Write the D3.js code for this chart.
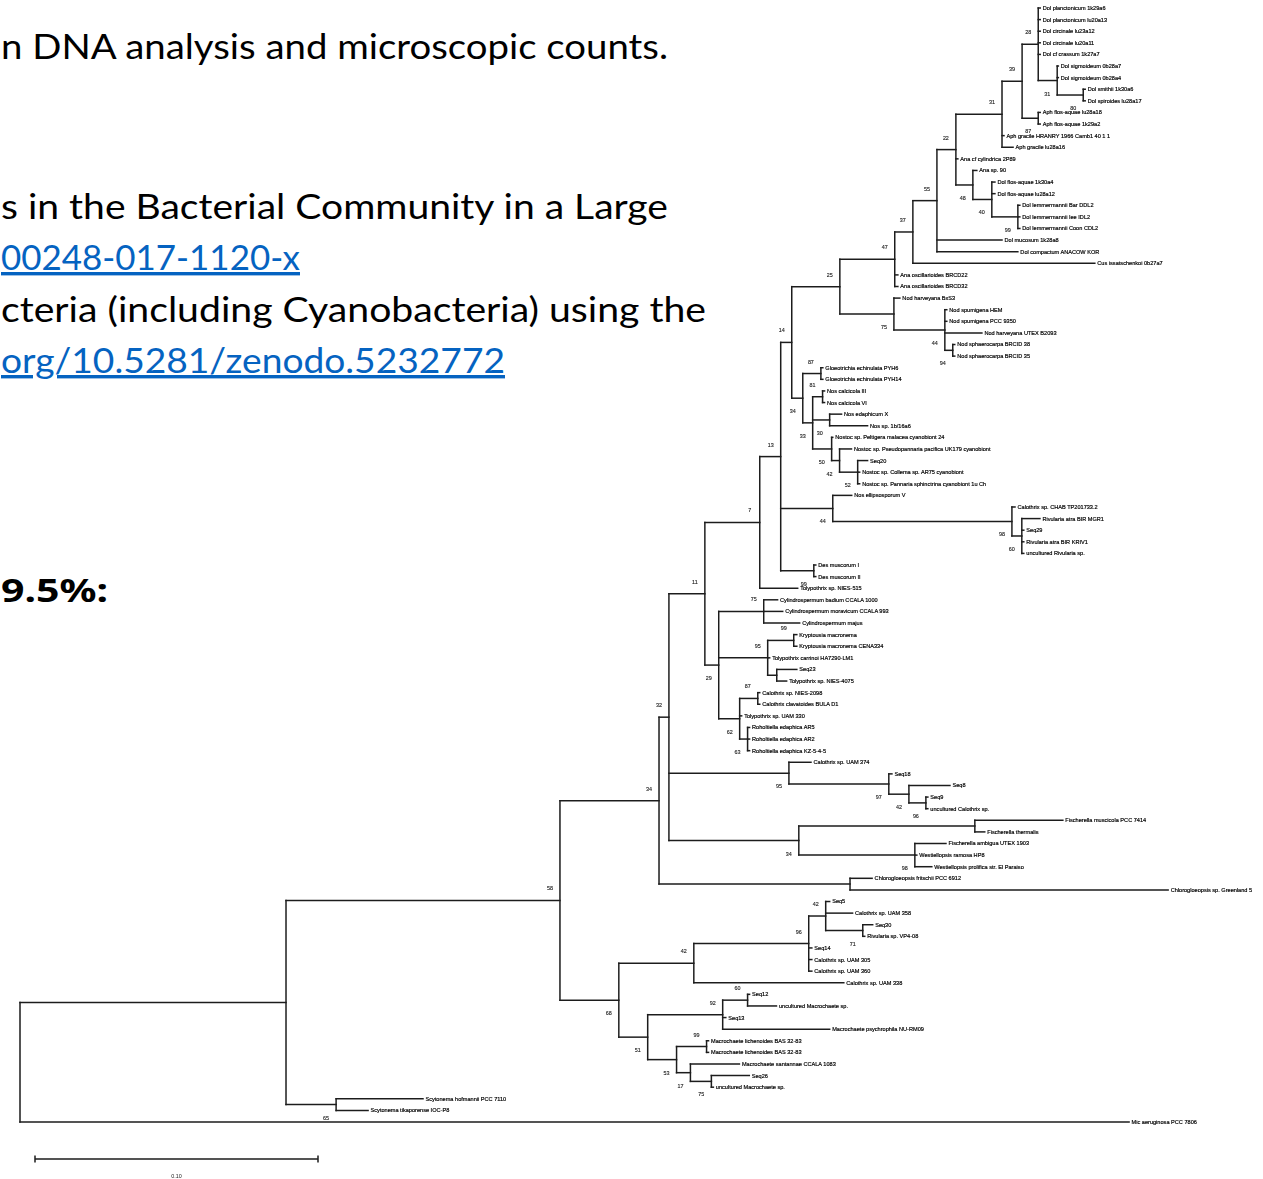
<!DOCTYPE html>
<html>
<head>
<meta charset="utf-8">
<script src="https://cdn.jsdelivr.net/npm/d3@7"></script>
<style>
  html, body { margin: 0; padding: 0; background: #fff; }
  svg { display: block; }
</style>
</head>
<body>
<svg id="chart" width="1263" height="1179"></svg>
<script>
// Internal clades: [id, parent id, branch length (subst./site), bootstrap %]
const clades = [
  ["root", null, 0, null],
  ["A", "root", 0.0940, null],
  ["B", "A", 0.0968, 58],
  ["scyt", "A", 0.0177, 65],
  ["n34b", "B", 0.0350, 34],
  ["n68", "B", 0.0208, 68],
  ["n32", "n34b", 0.0035, 32],
  ["chlo", "n34b", 0.0675, null],
  ["n11", "n32", 0.0127, 11],
  ["calseq", "n32", 0.0424, 95],
  ["fisch", "n32", 0.0459, 34],
  ["n7", "n11", 0.0194, 7],
  ["n29", "n11", 0.0049, 29],
  ["n13", "n7", 0.0074, 13],
  ["n14", "n13", 0.0039, 14],
  ["n44", "n13", 0.0184, 44],
  ["des", "n13", 0.0117, 99],
  ["n25", "n14", 0.0170, 25],
  ["n34", "n14", 0.0039, 34],
  ["n47", "n25", 0.0194, 47],
  ["nodu", "n25", 0.0191, 75],
  ["n37", "n47", 0.0064, 37],
  ["n55", "n37", 0.0085, 55],
  ["n22", "n55", 0.0067, 22],
  ["n31", "n22", 0.0163, 31],
  ["n48", "n22", 0.0060, 48],
  ["n39", "n31", 0.0071, 39],
  ["n28", "n39", 0.0057, 28],
  ["aphfa", "n39", 0.0057, 87],
  ["sigm", "n28", 0.0067, 31],
  ["n80", "sigm", 0.0092, 80],
  ["n40", "n48", 0.0067, 40],
  ["lemm", "n40", 0.0092, 99],
  ["n44n", "nodu", 0.0180, 44],
  ["sphae", "n44n", 0.0028, 94],
  ["gloeo", "n34", 0.0064, 87],
  ["n33", "n34", 0.0035, 33],
  ["calc", "n33", 0.0035, 81],
  ["n30", "n33", 0.0060, 30],
  ["n50", "n33", 0.0067, 50],
  ["n42n", "n50", 0.0028, 42],
  ["n52", "n42n", 0.0064, 52],
  ["rivu", "n44", 0.0633, 98],
  ["n60r", "rivu", 0.0035, 60],
  ["cyli", "n29", 0.0159, 75],
  ["n95", "n29", 0.0173, 95],
  ["n62", "n29", 0.0074, 62],
  ["kryp", "n95", 0.0092, 99],
  ["tolyp", "n95", 0.0032, null],
  ["calo", "n62", 0.0064, 87],
  ["roho", "n62", 0.0028, 63],
  ["s1", "calseq", 0.0353, 97],
  ["s2", "s1", 0.0071, 42],
  ["s3", "s2", 0.0060, 96],
  ["f1", "fisch", 0.0622, null],
  ["f2", "fisch", 0.0410, 98],
  ["n42", "n68", 0.0265, 42],
  ["n51", "n68", 0.0102, 51],
  ["n96", "n42", 0.0406, 96],
  ["n42b", "n96", 0.0060, 42],
  ["n71", "n42b", 0.0131, 71],
  ["n92", "n51", 0.0265, 92],
  ["n53", "n51", 0.0102, 53],
  ["n60", "n92", 0.0088, 60],
  ["lich", "n53", 0.0106, 99],
  ["n17", "n53", 0.0049, 17],
  ["n75m", "n17", 0.0074, 75]
];

// Terminal taxa, top to bottom: [label, parent clade, branch length]
const tips = [
  ["Dol planctonicum 1k29a6", "n28", 0.0007],
  ["Dol planctonicum lu20a13", "n28", 0.0007],
  ["Dol circinale lu23a12", "n28", 0.0007],
  ["Dol circinale lu20a11", "n28", 0.0007],
  ["Dol cf crassum 1k27a7", "n28", 0.0007],
  ["Dol sigmoideum 0b28a7", "sigm", 0.0004],
  ["Dol sigmoideum 0b28a4", "sigm", 0.0004],
  ["Dol smithii 1k30a6", "n80", 0.0007],
  ["Dol spiroides lu28a17", "n80", 0.0007],
  ["Aph flos-aquae lu28a18", "aphfa", 0.0007],
  ["Aph flos-aquae 1k29a2", "aphfa", 0.0007],
  ["Aph gracile HRANRY 1966 Camb1 40 1 1", "n31", 0.0007],
  ["Aph gracile lu28a16", "n31", 0.0039],
  ["Ana cf cylindrica 2P89", "n22", 0.0007],
  ["Ana sp. 90", "n48", 0.0014],
  ["Dol flos-aquae 1k30a4", "n40", 0.0011],
  ["Dol flos-aquae lu28a12", "n40", 0.0011],
  ["Dol lemmermannii Bar DDL2", "lemm", 0.0007],
  ["Dol lemmermannii Iee IDL2", "lemm", 0.0007],
  ["Dol lemmermannii Coon CDL2", "lemm", 0.0007],
  ["Dol mucosum 1k28a8", "n55", 0.0230],
  ["Dol compactum ANACOW KOR", "n55", 0.0286],
  ["Cus issatschenkoi 0b27a7", "n37", 0.0643],
  ["Ana oscillarioides BRCD22", "n47", 0.0011],
  ["Ana oscillarioides BRCD32", "n47", 0.0011],
  ["Nod harveyana BxS3", "nodu", 0.0021],
  ["Nod spumigena HEM", "n44n", 0.0007],
  ["Nod spumigena PCC 9350", "n44n", 0.0007],
  ["Nod harveyana UTEX B2093", "n44n", 0.0131],
  ["Nod sphaerocarpa BRCID 38", "sphae", 0.0007],
  ["Nod sphaerocarpa BRCID 35", "sphae", 0.0007],
  ["Gloeotrichia echinulata PYH6", "gloeo", 0.0007],
  ["Gloeotrichia echinulata PYH14", "gloeo", 0.0007],
  ["Nos calcicola III", "calc", 0.0007],
  ["Nos calcicola VI", "calc", 0.0007],
  ["Nos edaphicum X", "n30", 0.0042],
  ["Nos sp. 1b/16a6", "n30", 0.0134],
  ["Nostoc sp. Peltigera malacea cyanobiont 24", "n50", 0.0004],
  ["Nostoc sp. Pseudopannaria pacifica UK179 cyanobiont", "n42n", 0.0042],
  ["Seq20", "n52", 0.0035],
  ["Nostoc sp. Collema sp. AR75 cyanobiont", "n52", 0.0007],
  ["Nostoc sp. Pannaria sphinctrina cyanobiont 1u Ch", "n52", 0.0007],
  ["Nos ellipsosporum V", "n44", 0.0067],
  ["Calothrix sp. CHAB TP201733.2", "rivu", 0.0011],
  ["Rivularia atra BIR MGR1", "n60r", 0.0064],
  ["Seq29", "n60r", 0.0007],
  ["Rivularia atra BIR KRIV1", "n60r", 0.0007],
  ["uncultured Rivularia sp.", "n60r", 0.0007],
  ["Des muscorum I", "des", 0.0007],
  ["Des muscorum II", "des", 0.0007],
  ["Tolypothrix sp. NIES-515", "n7", 0.0134],
  ["Cylindrospermum badium CCALA 1000", "cyli", 0.0049],
  ["Cylindrospermum moravicum CCALA 993", "cyli", 0.0067],
  ["Cylindrospermum majus", "cyli", 0.0127],
  ["Kryptousia macronema", "kryp", 0.0011],
  ["Kryptousia macronema CENA334", "kryp", 0.0011],
  ["Tolypothrix carrinoi HA7290-LM1", "n95", 0.0007],
  ["Seq23", "tolyp", 0.0071],
  ["Tolypothrix sp. NIES-4075", "tolyp", 0.0035],
  ["Calothrix sp. NIES-2098", "calo", 0.0007],
  ["Calothrix clavatoides BULA D1", "calo", 0.0007],
  ["Tolypothrix sp. UAM 330", "n62", 0.0007],
  ["Roholtiella edaphica AR5", "roho", 0.0007],
  ["Roholtiella edaphica AR2", "roho", 0.0007],
  ["Roholtiella edaphica KZ-5-4-5", "roho", 0.0007],
  ["Calothrix sp. UAM 374", "calseq", 0.0078],
  ["Seq18", "s1", 0.0011],
  ["Seq8", "s2", 0.0145],
  ["Seq9", "s3", 0.0007],
  ["uncultured Calothrix sp.", "s3", 0.0007],
  ["Fischerella muscicola PCC 7414", "f1", 0.0311],
  ["Fischerella thermalis", "f1", 0.0035],
  ["Fischerella ambigua UTEX 1903", "f2", 0.0110],
  ["Westiellopsis ramosa HP8", "f2", 0.0007],
  ["Westiellopsis prolifica str. El Paraiso", "f2", 0.0060],
  ["Chlorogloeopsis fritschii PCC 6912", "chlo", 0.0078],
  ["Chlorogloeopsis sp. Greenland 5", "chlo", 0.1124],
  ["Seq5", "n42b", 0.0014],
  ["Calothrix sp. UAM 358", "n42b", 0.0095],
  ["Seq30", "n71", 0.0035],
  ["Rivularia sp. VP4-08", "n71", 0.0007],
  ["Seq14", "n96", 0.0011],
  ["Calothrix sp. UAM 305", "n96", 0.0011],
  ["Calothrix sp. UAM 360", "n96", 0.0011],
  ["Calothrix sp. UAM 338", "n42", 0.0530],
  ["Seq12", "n60", 0.0007],
  ["uncultured Macrochaete sp.", "n60", 0.0102],
  ["Seq13", "n92", 0.0011],
  ["Macrochaete psychrophila NU-RM09", "n92", 0.0378],
  ["Macrochaete lichenoides BAS 32-83", "lich", 0.0007],
  ["Macrochaete lichenoides BAS 32-83", "lich", 0.0007],
  ["Macrochaete santannae CCALA 1083", "n17", 0.0173],
  ["Seq26", "n75m", 0.0134],
  ["uncultured Macrochaete sp.", "n75m", 0.0007],
  ["Scytonema hofmannii PCC 7110", "scyt", 0.0307],
  ["Scytonema tikaporense IOC-P8", "scyt", 0.0113],
  ["Mic aeruginosa PCC 7806", "root", 0.3919]
];

// Scale bar length (subst./site)
const scaleBarValue = [0.10];

// Slide text fragments beside the tree
const slideText = [
  "n DNA analysis and microscopic counts.",
  "s in the Bacterial Community in a Large",
  "00248-017-1120-x",
  "cteria (including Cyanobacteria) using the",
  "org/10.5281/zenodo.5232772",
  "9.5%:"
];

const svg = d3.select("#chart");

// soft focus for the embedded tree figure
const defs = svg.append("defs");
defs.append("filter").attr("id", "soft")
  .attr("x", "-2%").attr("y", "-2%").attr("width", "104%").attr("height", "104%")
  .append("feGaussianBlur").attr("stdDeviation", 0.3);

// ---- slide text ----
const textLayout = [
  { x: 1, base: 59,  w: 667, link: false, bold: false },
  { x: 1, base: 219, w: 667, link: false, bold: false },
  { x: 1, base: 270, w: 299, link: true,  bold: false },
  { x: 1, base: 322, w: 705, link: false, bold: false },
  { x: 1, base: 373, w: 504, link: true,  bold: false },
  { x: 1, base: 602, w: 107, link: false, bold: true }
];
const tg = svg.append("g");
slideText.forEach((t, i) => {
  const L = textLayout[i];
  tg.append("text")
    .attr("x", L.x).attr("y", L.base)
    .attr("font-family", L.bold ? "'Noto Sans', 'Open Sans', sans-serif" : "Lato, 'Open Sans', sans-serif")
    .attr("font-size", L.bold ? 32 : 34)
    .attr("font-weight", L.bold ? 700 : 400)
    .attr("fill", L.link ? "#0563C1" : "#000")
    .attr("text-decoration", L.link ? "underline" : null)
    .attr("textLength", L.w).attr("lengthAdjust", "spacingAndGlyphs")
    .text(t);
});

// ---- tree ----
const rows = clades.map(([id, parent, len, boot]) => ({ id, parent, len, boot, label: null }))
  .concat(tips.map(([label, parent, len], i) => ({ id: "tip" + i, parent, len, boot: null, label, order: i })));

const root = d3.stratify().id(d => d.id).parentId(d => d.parent)(rows);

const x = d3.scaleLinear().domain([0, 0.1]).range([20, 303]);
const y = d3.scaleLinear().domain([0, tips.length - 1]).range([8, 1122]);

root.eachBefore(n => {
  n.dist = n.parent ? n.parent.dist + n.data.len : 0;
  n.px = x(n.dist);
});
root.eachAfter(n => {
  if (!n.children) {
    n.py = y(n.data.order);
  } else {
    n.y0 = d3.min(n.children, c => c.py);
    n.y1 = d3.max(n.children, c => c.py);
    n.py = (n.y0 + n.y1) / 2;
  }
});

const tree = svg.append("g").attr("filter", "url(#soft)");
const lineColor = "#1e1e1e";

// horizontal branches
tree.append("g")
  .selectAll("path")
  .data(root.descendants().filter(n => n.parent))
  .join("path")
  .attr("d", n => `M${n.parent.px},${n.py}H${n.px}`)
  .attr("fill", "none")
  .attr("stroke", lineColor)
  .attr("stroke-width", 1.5)
  .attr("stroke-linecap", "square");

// vertical connectors
tree.append("g")
  .selectAll("path")
  .data(root.descendants().filter(n => n.children))
  .join("path")
  .attr("d", n => `M${n.px},${n.y0}V${n.y1}`)
  .attr("fill", "none")
  .attr("stroke", lineColor)
  .attr("stroke-width", 1.5)
  .attr("stroke-linecap", "square");

// taxon labels
tree.append("g")
  .attr("font-family", "'Liberation Sans', Arial, sans-serif")
  .attr("font-size", 5.6)
  .attr("fill", "#000")
  .attr("stroke", "#000")
  .attr("stroke-width", 0.18)
  .selectAll("text")
  .data(root.leaves())
  .join("text")
  .attr("x", n => n.px + 2.5)
  .attr("y", n => n.py)
  .attr("dy", "0.35em")
  .text(n => n.data.label);

// bootstrap support values
tree.append("g")
  .attr("font-family", "'Liberation Sans', Arial, sans-serif")
  .attr("font-size", 5.4)
  .attr("fill", "#1a1a1a")
  .attr("stroke", "#1a1a1a")
  .attr("stroke-width", 0.12)
  .attr("text-anchor", "middle")
  .selectAll("text")
  .data(root.descendants().filter(n => n.data.boot != null))
  .join("text")
  .attr("x", n => n.px - 10)
  .attr("y", n => (n.parent && n.py > n.parent.py - 4) ? n.py + 15 : n.py - 10)
  .text(n => n.data.boot);

// ---- scale bar ----
const sbLen = x(scaleBarValue[0]) - x(0);
const sbX = 35, sbY = 1159;
const sb = svg.append("g").attr("filter", "url(#soft)");
const sbl = sb.append("g").attr("stroke", lineColor).attr("stroke-width", 1.5);
sbl.append("line").attr("x1", sbX).attr("x2", sbX + sbLen).attr("y1", sbY).attr("y2", sbY);
sbl.append("line").attr("x1", sbX).attr("x2", sbX).attr("y1", sbY - 3.5).attr("y2", sbY + 3.5);
sbl.append("line").attr("x1", sbX + sbLen).attr("x2", sbX + sbLen).attr("y1", sbY - 3.5).attr("y2", sbY + 3.5);
sb.append("text")
  .attr("x", sbX + sbLen / 2).attr("y", 1178)
  .attr("text-anchor", "middle")
  .attr("font-family", "'Liberation Sans', Arial, sans-serif")
  .attr("font-size", 5.4)
  .attr("fill", "#222")
  .text(scaleBarValue[0].toFixed(2));
</script>
</body>
</html>
